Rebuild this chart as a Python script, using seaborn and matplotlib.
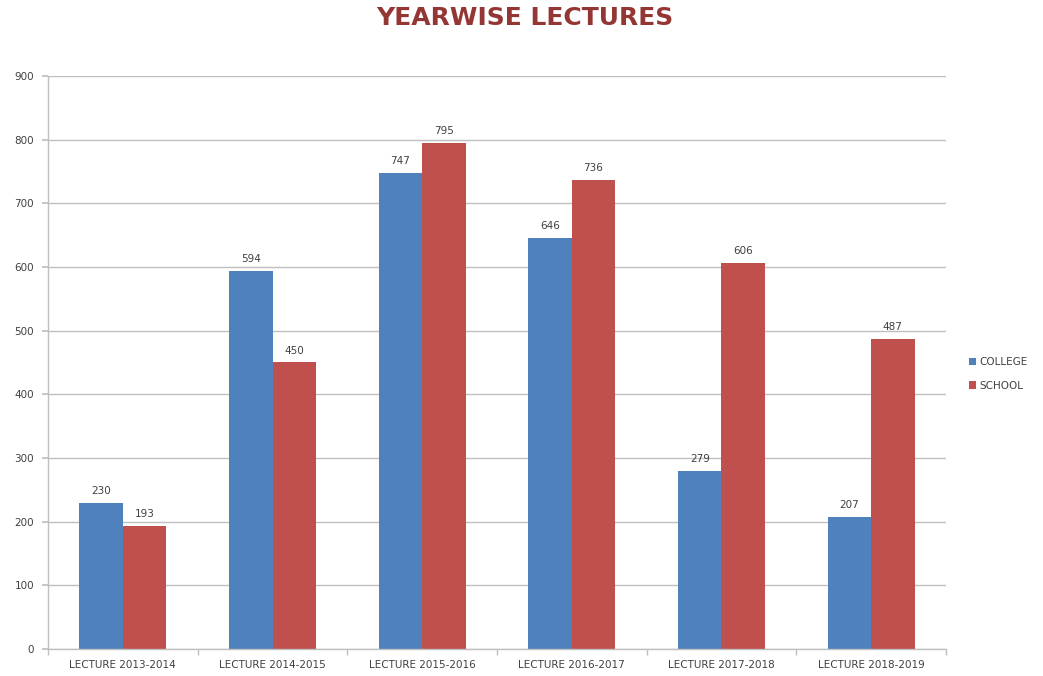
import matplotlib
matplotlib.use("Agg")
import matplotlib.pyplot as plt
import seaborn as sns
import pandas as pd
import numpy as np
from matplotlib.ticker import FixedLocator

categories = ["LECTURE 2013-2014", "LECTURE 2014-2015", "LECTURE 2015-2016",
              "LECTURE 2016-2017", "LECTURE 2017-2018", "LECTURE 2018-2019"]
college = [230, 594, 747, 646, 279, 207]
school = [193, 450, 795, 736, 606, 487]
series = ["COLLEGE", "SCHOOL"]
colors = ["#4F81BD", "#C0504D"]

df = pd.DataFrame({
    "category": categories * 2,
    "value": college + school,
    "series": [series[0]] * len(categories) + [series[1]] * len(categories),
})

sns.set_theme(style="white")
plt.rcParams['font.family'] = ['DejaVu Sans']

fig = plt.figure(figsize=(10.43, 6.76), dpi=100)
ax = fig.add_axes([48/1043, 27/676, (946-48)/1043, (649-76)/676])

sns.barplot(data=df, x="category", y="value", hue="series", palette=colors,
            width=0.58, gap=0, ax=ax, saturation=1, edgecolor="none", legend=True)

ax.set_ylim(0, 900)
ax.set_xlim(-0.5, len(categories) - 0.5)
ax.set_yticks(np.arange(0, 901, 100))
ax.yaxis.grid(True, color="#BFBFBF", linewidth=1)
ax.set_axisbelow(True)
ax.set_xlabel("")
ax.set_ylabel("")

for c in ax.containers:
    ax.bar_label(c, padding=5, fontsize=7.5, color="#404040")

ax.tick_params(axis="y", labelsize=7.5, labelcolor="#404040", length=4, color="#BFBFBF", left=True, pad=6)
ax.tick_params(axis="x", which="major", labelsize=7.5, labelcolor="#404040", length=0, pad=8)
ax.xaxis.set_minor_locator(FixedLocator(np.arange(-0.5, len(categories), 1.0)))
ax.tick_params(axis="x", which="minor", length=4, color="#BFBFBF", bottom=True)

for s in ["top", "right"]:
    ax.spines[s].set_visible(False)
for s in ["left", "bottom"]:
    ax.spines[s].set_color("#BFBFBF")
    ax.spines[s].set_linewidth(1)

handles, labels = ax.get_legend_handles_labels()
ax.legend(handles, labels, loc="center left", bbox_to_anchor=(1.015, 0.48),
          frameon=False, fontsize=7.5, handlelength=0.7, handleheight=0.7,
          handletextpad=0.3, labelspacing=1.3, labelcolor="#404040")

fig.text(525/1043, 1 - 18/676, "YEARWISE LECTURES", ha="center", va="center",
         fontsize=18, fontweight="heavy", color="#943634")

fig.savefig("out.png", dpi=100)
